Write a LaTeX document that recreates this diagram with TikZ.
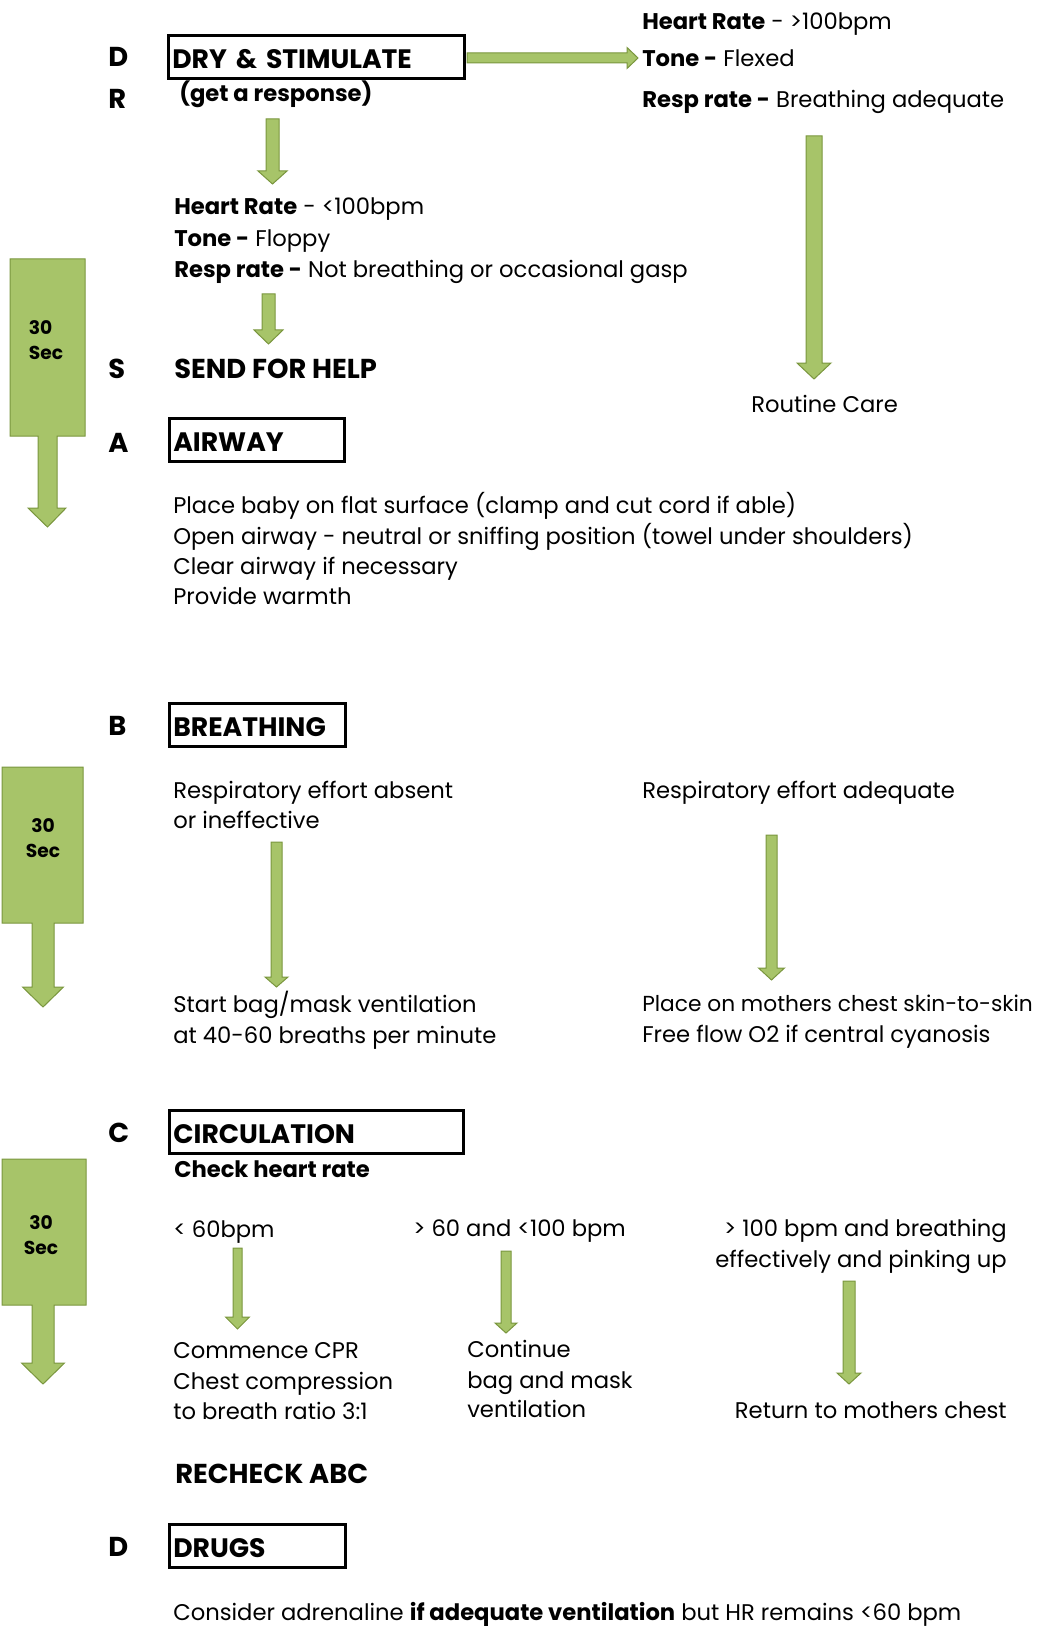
\documentclass[tikz,border=0pt]{standalone}
\usepackage{fontspec}
\setmainfont{Poppins}
\usetikzlibrary{calc}

\definecolor{gfill}{RGB}{167,196,105}
\definecolor{gline}{RGB}{122,150,62}

\tikzstyle{t} = [anchor=base west, inner sep=0pt, font=\fontsize{17}{20}\selectfont]
\tikzstyle{h} = [anchor=base west, inner sep=0pt, font=\fontsize{20.5}{24}\selectfont\bfseries]
\tikzstyle{hb} = [draw=black, line width=2pt, anchor=north west, inner xsep=3pt, inner ysep=3pt, text height=21.75pt, text depth=4.5pt, align=left, font=\fontsize{20}{22}\selectfont\bfseries]
\tikzstyle{g} = [fill=gfill, draw=gline, line width=0.75pt]
\tikzstyle{sec} = [inner sep=0pt, align=center, font=\fontsize{14}{19}\selectfont\bfseries]

% block arrow pointing down: top, tip, shaft half width, head half width, head length
\newcommand{\blockarrow}[5]{%
  \filldraw[g] ($(#1)+(-#3,0)$) -- ($(#1)+(#3,0)$) -- ($(#2)+(#3,-#5)$) -- ($(#2)+(#4,-#5)$)
    -- (#2) -- ($(#2)+(-#4,-#5)$) -- ($(#2)+(-#3,-#5)$) -- cycle;}

\begin{document}
\begin{tikzpicture}[x=0.75pt,y=-0.75pt]
\useasboundingbox (0,0) rectangle (1040,1626);

    % letters
    \node[h] (ld) at (108,67) {D};
    \node[h] (lr) at (108,109) {R};
    \node[h] (ls) at (108,378) {S};
    \node[h] (la) at (108,452) {A};
    \node[h] (lb) at (108,735) {B};
    \node[h] (lc) at (108,1142) {C};
    \node[h] (ld2) at (108,1556) {D};

    % D R
    \node[hb, text width=216pt] (dry) at (167,34) {DRY \& STIMULATE};
    \node[t, font=\fontsize{17}{20}\selectfont\bfseries] (resp) at (179,102) {(get a response)};

    \node[t] (hrhi) at (642,30) {\textbf{Heart Rate} - >100bpm};
    \node[t] (tnhi) at (642,67) {\textbf{Tone -} Flexed};
    \node[t] (rrhi) at (642,108) {\textbf{Resp rate -} Breathing adequate};
    \node[t] (care) at (751,412) {Routine Care};

    \node[t] (hrlo) at (174,215) {\textbf{Heart Rate} - <100bpm};
    \node[t] (tnlo) at (174,247) {\textbf{Tone -} Floppy};
    \node[t] (rrlo) at (174,278) {\textbf{Resp rate -} Not breathing or occasional gasp};

    % S
    \node[h] (help) at (174,378) {SEND FOR HELP};

    % A
    \node[hb, text width=125.25pt] (air) at (168,417) {AIRWAY};
    \node[t] (a1) at (173,513) {Place baby on flat surface (clamp and cut cord if able)};
    \node[t] (a2) at (173,544) {Open airway - neutral or sniffing position (towel under shoulders)};
    \node[t] (a3) at (173,574) {Clear airway if necessary};
    \node[t] (a4) at (173,604) {Provide warmth};

    % B
    \node[hb, text width=126pt] (brth) at (168,702) {BREATHING};
    \node[t] (ab1) at (173,798) {Respiratory effort absent};
    \node[t] (ab2) at (173,828) {or ineffective};
    \node[t] (ad) at (642,798) {Respiratory effort adequate};
    \node[t] (bm1) at (173,1012) {Start bag/mask ventilation};
    \node[t] (bm2) at (173,1043) {at 40-60 breaths per minute};
    \node[t, font=\fontsize{16.3}{20}\selectfont] (sk1) at (642,1011) {Place on mothers chest skin-to-skin};
    \node[t] (sk2) at (642,1042) {Free flow O2 if central cyanosis};

    % C
    \node[hb, text width=214.5pt] (circ) at (168,1109) {CIRCULATION};
    \node[t, font=\fontsize{17}{20}\selectfont\bfseries] (chk) at (174,1177) {Check heart rate};
    \node[t] (c1) at (173,1237) {< 60bpm};
    \node[t] (c2) at (413,1236) {> 60 and <100 bpm};
    \node[t, anchor=base east] (c3a) at (1007,1236) {> 100 bpm and breathing};
    \node[t, anchor=base east] (c3b) at (1007,1267) {effectively and pinking up};
    \node[t] (cpr1) at (173,1358) {Commence CPR};
    \node[t] (cpr2) at (173,1389) {Chest compression};
    \node[t] (cpr3) at (173,1419) {to breath ratio 3:1};
    \node[t] (cont1) at (467,1357) {Continue};
    \node[t] (cont2) at (467,1388) {bag and mask};
    \node[t] (cont3) at (467,1417) {ventilation};
    \node[t, anchor=base east] (ret) at (1007,1418) {Return to mothers chest};

    \node[h] (rechk) at (175,1483) {RECHECK ABC};

    % D
    \node[hb, text width=126pt] (drug) at (168,1523) {DRUGS};
    \node[t] (adr) at (173,1620) {Consider adrenaline \textbf{if adequate ventilation} but HR remains <60 bpm};

    % arrows
    \coordinate (rs) at (467,58);
    \coordinate (re) at (638,58);
    \filldraw[g] ($(rs)+(0,-5)$) -- ($(re)+(-11,-5)$) -- ($(re)+(-11,-10.5)$) -- (re)
      -- ($(re)+(-11,10.5)$) -- ($(re)+(-11,5)$) -- ($(rs)+(0,5)$) -- cycle;

    \coordinate (p1) at (272.5,119);  \coordinate (q1) at (272.5,184);
    \coordinate (p2) at (268.5,294);  \coordinate (q2) at (268.5,344);
    \coordinate (p3) at (814,136);    \coordinate (q3) at (814,379);
    \coordinate (p4) at (276.5,842);  \coordinate (q4) at (276.5,987);
    \coordinate (p5) at (771.5,835);  \coordinate (q5) at (771.5,980);
    \coordinate (p6) at (237.5,1248); \coordinate (q6) at (237.5,1329);
    \coordinate (p7) at (506,1251);   \coordinate (q7) at (506,1333);
    \coordinate (p8) at (849,1281);   \coordinate (q8) at (849,1384);

    \blockarrow{p1}{q1}{6.5}{14.5}{13}
    \blockarrow{p2}{q2}{6.5}{14.5}{14}
    \blockarrow{p3}{q3}{8}{17}{16}
    \blockarrow{p4}{q4}{5.5}{11.5}{10}
    \blockarrow{p5}{q5}{5.5}{13}{12}
    \blockarrow{p6}{q6}{4.5}{12}{12}
    \blockarrow{p7}{q7}{5}{11}{10}
    \blockarrow{p8}{q8}{6}{12}{11}

    % 30 sec blocks
    \filldraw[g] (10,259) -- (85,259) -- (85,436) -- (57,436) -- (57,508) -- (66,508) -- (47.5,527)
      -- (28,508) -- (38,508) -- (38,436) -- (10,436) -- cycle;
    \node[sec, align=left] (sec1) at (46,340) {30\\Sec};
    \filldraw[g] (2,767) -- (83,767) -- (83,923) -- (54,923) -- (54,987) -- (63.5,987) -- (43,1007)
      -- (22.5,987) -- (32,987) -- (32,923) -- (2,923) -- cycle;
    \node[sec] (sec2) at (43,838) {30\\Sec};
    \filldraw[g] (2,1159) -- (86,1159) -- (86,1305) -- (54,1305) -- (54,1363) -- (64.5,1363) -- (43,1384)
      -- (21.5,1363) -- (32,1363) -- (32,1305) -- (2,1305) -- cycle;
    \node[sec] (sec3) at (41,1235) {30\\Sec};

\end{tikzpicture}
\end{document}
